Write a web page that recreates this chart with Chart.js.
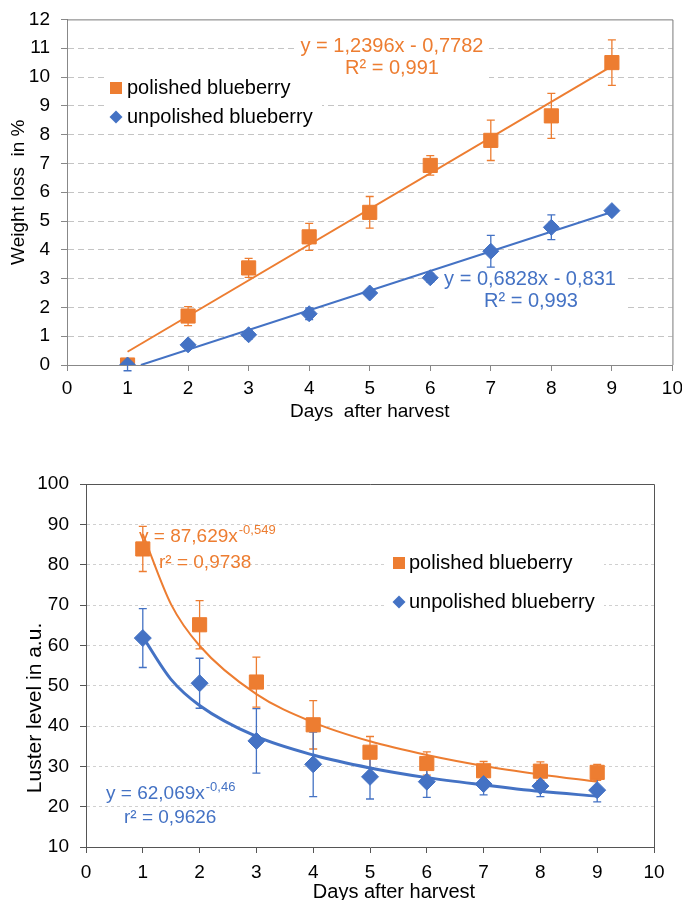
<!DOCTYPE html>
<html>
<head>
<meta charset="utf-8">
<script src="https://cdn.jsdelivr.net/npm/chart.js@4.4.1/dist/chart.umd.min.js"></script>
<style>
  html, body { margin: 0; padding: 0; background: #fff; overflow: hidden; }
  #top { position: absolute; left: 0; top: -3px; width: 689px; height: 443px; }
  #bottom { position: absolute; left: 0; top: 440px; width: 682px; height: 470px; }
</style>
</head>
<body>
<div id="top"><canvas id="weightChart"></canvas></div>
<div id="bottom"><canvas id="lusterChart"></canvas></div>
<script>
const days = [1, 2, 3, 4, 5, 6, 7, 8, 9];

// weight loss in %
const wlPolished = [0, 1.7, 3.37, 4.45, 5.3, 6.93, 7.8, 8.65, 10.5];
const wlPolishedErr = [0, 0.33, 0.33, 0.47, 0.55, 0.34, 0.7, 0.78, 0.79];
const wlUnpolished = [0, 0.7, 1.05, 1.78, 2.5, 3.03, 3.95, 4.78, 5.36];
const wlUnpolishedErr = [0.2, 0.1, 0.15, 0.2, 0.1, 0.15, 0.55, 0.43, 0.1];
// linear trend lines (end points)
const wlTrendPolX = [1, 9];
const wlTrendPolY = [0.46, 10.38];
const wlTrendUnpX = [1.22, 9];
const wlTrendUnpY = [0, 5.31];

// luster level in a.u.
const lusPolished = [83.9, 65.1, 50.9, 40.3, 33.5, 30.7, 28.9, 28.8, 28.5];
const lusPolishedErr = [5.6, 6, 6.2, 6, 3.9, 2.9, 2.3, 2.3, 2];
const lusUnpolished = [61.8, 50.6, 36.3, 30.5, 27.4, 26.2, 25.6, 25.1, 24.1];
const lusUnpolishedErr = [7.3, 6.2, 8, 8, 5.5, 3.9, 2.7, 2.6, 2.9];
// power trend curves
const lusTrendX = [1, 1.5, 2, 3, 4, 5, 6, 7, 8, 9];
const lusTrendPol = [87.6, 70.1, 59.9, 47.9, 40.9, 36.2, 32.8, 30.1, 28.0, 26.2];
const lusTrendUnp = [62.1, 51.5, 45.1, 37.4, 32.8, 29.6, 27.2, 25.4, 23.8, 22.6];

const ORANGE = '#ED7D31';
const BLUE = '#4472C4';

Chart.defaults.font.family = "'Liberation Sans', Arial, sans-serif";
Chart.defaults.color = '#000';

const toPoints = (xs, ys) => xs.map((x, i) => ({x: x, y: ys[i]}));

// frame, white boxes, texts, legend and error bars
const extras = {
  id: 'extras',
  beforeDatasetsDraw(chart, args, opts) {
    const ctx = chart.ctx;
    const area = chart.chartArea;
    ctx.save();

    ctx.strokeStyle = opts.frameColor;
    ctx.lineWidth = 1;
    ctx.beginPath();
    ctx.moveTo(area.left, area.top + 0.5);
    ctx.lineTo(area.right + 0.5, area.top + 0.5);
    ctx.lineTo(area.right + 0.5, area.bottom);
    ctx.stroke();

    ctx.fillStyle = '#fff';
    (opts.boxes || []).forEach(b => ctx.fillRect(b[0], b[1], b[2], b[3]));

    ctx.textBaseline = 'middle';
    (opts.texts || []).forEach(t => {
      const size = t.size || 19;
      ctx.font = size + "px 'Liberation Sans', Arial, sans-serif";
      ctx.fillStyle = t.color || '#000';
      ctx.save();
      ctx.translate(t.x, t.y);
      if (t.rotate) ctx.rotate(-Math.PI / 2);
      ctx.textAlign = t.align || 'left';
      ctx.fillText(t.text, 0, 0);
      if (t.sup) {
        const w = ctx.measureText(t.text).width;
        ctx.font = "13px 'Liberation Sans', Arial, sans-serif";
        ctx.textAlign = 'left';
        ctx.fillText(t.sup, w + 1, -7);
      }
      ctx.restore();
    });

    const lg = opts.legend;
    if (lg) {
      ctx.font = lg.size + "px 'Liberation Sans', Arial, sans-serif";
      ctx.textAlign = 'left';
      const items = chart.data.datasets.filter(d => d.inLegend);
      items.forEach((d, i) => {
        const y = lg.y[i];
        ctx.fillStyle = d.backgroundColor;
        ctx.strokeStyle = d.borderColor;
        Chart.helpers.drawPoint(ctx, {
          pointStyle: d.pointStyle,
          radius: d.pointStyle === 'rect' ? lg.rectRadius : lg.diamondRadius,
          rotation: 0,
          borderWidth: 0
        }, lg.x, y);
        ctx.fillStyle = '#000';
        ctx.fillText(d.label, lg.textX, y);
      });
    }

    const xs = chart.scales.x;
    const ys = chart.scales.y;
    chart.data.datasets.forEach(d => {
      if (!d.errors) return;
      ctx.strokeStyle = d.borderColor;
      ctx.lineWidth = 1.3;
      d.data.forEach((p, i) => {
        const e = d.errors[i];
        if (!e) return;
        const px = xs.getPixelForValue(p.x);
        const top = ys.getPixelForValue(p.y + e);
        const bot = ys.getPixelForValue(p.y - e);
        ctx.beginPath();
        ctx.moveTo(px, top);
        ctx.lineTo(px, bot);
        ctx.moveTo(px - 4, top);
        ctx.lineTo(px + 4, top);
        ctx.moveTo(px - 4, bot);
        ctx.lineTo(px + 4, bot);
        ctx.stroke();
      });
    });
    ctx.restore();
  }
};

function gridColor(min, max, color) {
  return c => (c.tick && (c.tick.value === min || c.tick.value === max)) ? 'rgba(0,0,0,0)' : color;
}

new Chart('weightChart', {
  type: 'scatter',
  data: {
    datasets: [
      {
        label: 'polished blueberry', inLegend: true,
        data: toPoints(days, wlPolished), errors: wlPolishedErr,
        pointStyle: 'rect', pointRadius: 10, backgroundColor: ORANGE, borderColor: ORANGE,
        borderWidth: 1, order: 1
      },
      {
        label: 'unpolished blueberry', inLegend: true,
        data: toPoints(days, wlUnpolished), errors: wlUnpolishedErr,
        pointStyle: 'rectRot', pointRadius: 8, backgroundColor: BLUE, borderColor: BLUE,
        borderWidth: 1, order: 0
      },
      {
        label: 'trend polished', data: toPoints(wlTrendPolX, wlTrendPolY),
        showLine: true, pointRadius: 0, borderColor: ORANGE, borderWidth: 2, order: 2
      },
      {
        label: 'trend unpolished', data: toPoints(wlTrendUnpX, wlTrendUnpY),
        showLine: true, pointRadius: 0, borderColor: BLUE, borderWidth: 2, order: 2
      }
    ]
  },
  options: {
    responsive: true,
    maintainAspectRatio: false,
    animation: false,
    events: [],
    layout: { padding: { top: 16, right: 3, bottom: 17, left: 0 } },
    plugins: {
      legend: { display: false },
      tooltip: { enabled: false },
      extras: {
        frameColor: '#7a7a7a',
        boxes: [[105, 73, 217, 58], [297, 36, 192, 47], [437, 268, 188, 47]],
        texts: [
          { text: 'y = 1,2396x - 0,7782', x: 392, y: 49, align: 'center', color: ORANGE, size: 20 },
          { text: 'R² = 0,991', x: 392, y: 71, align: 'center', color: ORANGE, size: 20 },
          { text: 'y = 0,6828x - 0,831', x: 530, y: 282, align: 'center', color: BLUE, size: 20 },
          { text: 'R² = 0,993', x: 531, y: 304, align: 'center', color: BLUE, size: 20 }
        ],
        legend: { x: 116, textX: 127, y: [91, 120], size: 20, rectRadius: 8.5, diamondRadius: 6.5 }
      }
    },
    scales: {
      x: {
        type: 'linear', min: 0, max: 10,
        ticks: { stepSize: 1, padding: 6, font: { size: 19 }, maxRotation: 0 },
        grid: { drawOnChartArea: false, tickLength: 6, color: '#888' },
        border: { color: '#888' },
        title: { display: true, text: 'Days  after harvest', font: { size: 19 }, padding: 0 },
        afterFit: s => { s.height = 58; }
      },
      y: {
        min: 0, max: 12,
        ticks: { stepSize: 1, padding: 11, font: { size: 19 } },
        grid: { color: gridColor(0, 12, '#c4c4c4'), tickColor: '#888', tickLength: 6, tickBorderDash: [] },
        border: { color: '#888', dash: [6, 4] },
        title: { display: true, text: 'Weight loss  in %', font: { size: 19 }, padding: { top: 7, bottom: 0 } },
        afterFit: s => { s.width = 67; }
      }
    }
  },
  plugins: [extras]
});

new Chart('lusterChart', {
  type: 'scatter',
  data: {
    datasets: [
      {
        label: 'polished blueberry', inLegend: true,
        data: toPoints(days, lusPolished), errors: lusPolishedErr,
        pointStyle: 'rect', pointRadius: 10, backgroundColor: ORANGE, borderColor: ORANGE,
        borderWidth: 1, order: 1
      },
      {
        label: 'unpolished blueberry', inLegend: true,
        data: toPoints(days, lusUnpolished), errors: lusUnpolishedErr,
        pointStyle: 'rectRot', pointRadius: 8.5, backgroundColor: BLUE, borderColor: BLUE,
        borderWidth: 1, order: 0
      },
      {
        label: 'trend polished', data: toPoints(lusTrendX, lusTrendPol),
        showLine: true, pointRadius: 0, borderColor: ORANGE, borderWidth: 2,
        cubicInterpolationMode: 'monotone', order: 2
      },
      {
        label: 'trend unpolished', data: toPoints(lusTrendX, lusTrendUnp),
        showLine: true, pointRadius: 0, borderColor: BLUE, borderWidth: 3,
        cubicInterpolationMode: 'monotone', order: 2
      }
    ]
  },
  options: {
    responsive: true,
    maintainAspectRatio: false,
    animation: false,
    events: [],
    layout: { padding: { top: 44, right: 28, bottom: 23, left: 0 } },
    plugins: {
      legend: { display: false },
      tooltip: { enabled: false },
      extras: {
        frameColor: '#555',
        boxes: [[386, 103, 218, 78]],
        texts: [
          { text: 'y = 87,629x', sup: '-0,549', x: 139, y: 97, color: ORANGE, size: 19 },
          { text: 'r² = 0,9738', x: 159, y: 123, color: ORANGE, size: 19 },
          { text: 'y = 62,069x', sup: '-0,46', x: 106, y: 354, color: BLUE, size: 19 },
          { text: 'r² = 0,9626', x: 124, y: 378, color: BLUE, size: 19 },
          { text: 'Days after harvest', x: 394, y: 452, align: 'center', size: 20 },
          { text: 'Luster level in a.u.', x: 35, y: 268, align: 'center', size: 21, rotate: true }
        ],
        legend: { x: 399, textX: 409, y: [123, 162], size: 20, rectRadius: 8.5, diamondRadius: 6.5 }
      }
    },
    scales: {
      x: {
        type: 'linear', min: 0, max: 10,
        ticks: { stepSize: 1, padding: 8, font: { size: 19 }, maxRotation: 0 },
        grid: { drawOnChartArea: false, tickLength: 6, color: '#555' },
        border: { color: '#555' },
        afterFit: s => { s.height = 40; }
      },
      y: {
        min: 10, max: 100,
        ticks: { stepSize: 10, padding: 11, font: { size: 19 } },
        grid: { color: gridColor(10, 100, '#d0d0d0'), tickColor: '#555', tickLength: 6, tickBorderDash: [] },
        border: { color: '#555', dash: [3, 3] },
        afterFit: s => { s.width = 86; }
      }
    }
  },
  plugins: [extras]
});
</script>
</body>
</html>
